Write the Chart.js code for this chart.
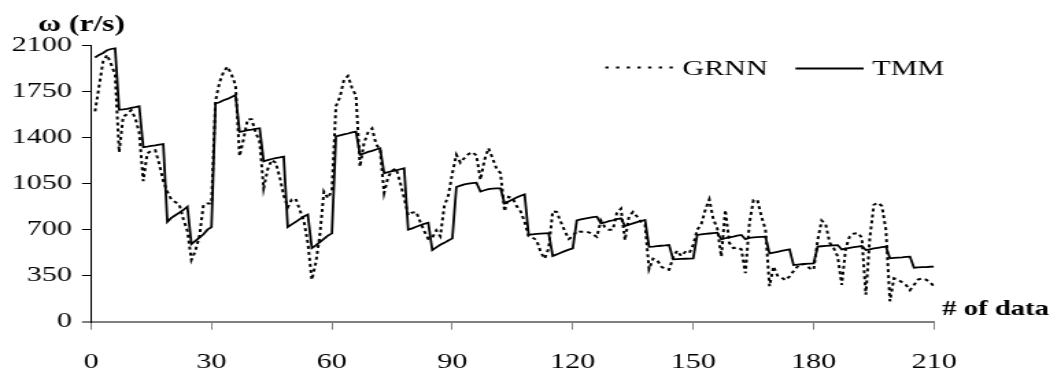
<!DOCTYPE html>
<html><head><meta charset="utf-8">
<script src="https://cdn.jsdelivr.net/npm/chart.js@4/dist/chart.umd.min.js"></script>
<style>
html,body{margin:0;padding:0;background:#fff;overflow:hidden;}
#wrap{width:766px;height:375px;transform:scaleX(1.3708);transform-origin:0 0;}
canvas{display:block;}
</style></head><body>
<div id="wrap"><canvas id="c" width="766" height="375" style="width:766px;height:375px"></canvas></div>
<script>
// ---- data (index 1..210) ----
const grnn = [
1600,1790,1980,2030,1960,1880,1290,1560,1580,1610,
1550,1440,1070,1280,1300,1305,1200,1070,990,930,
910,890,780,690,470,540,650,890,900,900,
1680,1820,1900,1940,1880,1800,1260,1390,1540,1540,
1440,1370,1015,1160,1230,1210,1100,960,870,930,
935,850,770,600,320,450,660,990,940,1000,
1640,1710,1840,1870,1780,1720,1180,1360,1440,1470,
1350,1310,980,1100,1150,1165,1060,940,810,830,
835,760,690,630,640,695,650,880,960,1130,
1270,1210,1245,1275,1290,1265,1080,1230,1320,1245,
1165,1130,840,950,940,880,840,760,650,640,
620,530,480,560,840,835,760,690,630,650,
690,685,685,680,665,645,770,720,700,700,
830,860,620,800,835,800,760,740,400,480,
470,420,400,395,490,540,500,530,520,585,
700,740,850,930,780,710,495,850,600,560,
565,550,370,750,926,925,800,700,270,420,
350,335,315,345,385,420,435,440,406,395,
620,770,740,600,560,495,280,560,650,670,
675,640,205,640,890,905,880,700,155,330,
320,300,280,240,280,320,330,320,300,270
];
const tmm = [
2010,2030,2045,2065,2075,2080,
1612,1615,1620,1627,1633,1640,
1328,1332,1338,1342,1348,1352,
760,790,810,830,850,875,
590,615,640,665,700,720,
1660,1670,1685,1695,1710,1725,
1445,1450,1458,1462,1468,1472,
1220,1230,1238,1245,1250,1256,
720,740,760,780,800,815,
560,580,605,630,655,672,
1410,1418,1425,1432,1440,1446,
1270,1280,1292,1300,1310,1320,
1130,1138,1145,1152,1160,1167,
700,710,722,734,745,753,
545,565,585,600,618,634,
1025,1035,1045,1050,1055,1058,
990,1000,1008,1012,1015,1015,
900,915,930,945,958,969,
662,665,668,670,672,674,
500,512,525,537,548,558,
770,778,785,790,795,799,
748,755,765,772,780,786,
728,738,748,758,766,774,
570,572,575,578,580,583,
474,476,478,479,480,482,
660,664,668,671,674,677,
627,635,642,648,655,660,
628,637,641,644,646,647,
520,526,532,538,544,550,
431,434,437,440,442,444,
571,574,577,579,581,583,
550,556,562,567,572,576,
545,551,557,562,567,571,
482,485,488,490,493,495,
411,413,415,416,418,419
];
const xTicks = [0,30,60,90,120,150,180,210];
const yTicks = [0,350,700,1050,1400,1750,2100];
const seriesNames = ['GRNN','TMM'];
const yTitle = 'ω (r/s)';
const xTitle = '# of data';

const FONT = '"Liberation Serif","Times New Roman","DejaVu Serif",serif';
const toPts = arr => arr.map((v,i)=>({x:i+1,y:v}));

const overlay = {
  id:'overlay',
  afterDraw(chart){
    const ctx = chart.ctx;
    ctx.save();
    ctx.fillStyle = '#000';
    ctx.textAlign = 'left';
    ctx.textBaseline = 'alphabetic';
    ctx.font = 'bold 23px ' + FONT;
    ctx.fillText(yTitle, 27.7, 31);
    ctx.font = 'bold 21px ' + FONT;
    ctx.fillText(xTitle, 687.2, 315);
    const leg = [
      {x0:441.6, x1:492.7, y:67.5, tx:497.8, dash:[2.4,5.4]},
      {x0:580.3, x1:630.0, y:68.5, tx:636.3, dash:[]}
    ];
    chart.data.datasets.forEach((ds,i)=>{
      const L = leg[i];
      ctx.beginPath();
      ctx.setLineDash(L.dash);
      ctx.lineWidth = 2;
      ctx.strokeStyle = '#000';
      ctx.moveTo(L.x0, L.y); ctx.lineTo(L.x1, L.y);
      ctx.stroke();
      ctx.setLineDash([]);
      ctx.font = '22px ' + FONT;
      ctx.fillText(ds.label, L.tx, 74.5);
    });
    ctx.restore();
  }
};

new Chart(document.getElementById('c'), {
  type:'line',
  data:{datasets:[
    {label:seriesNames[0], data:toPts(grnn), borderColor:'#000', borderWidth:2, borderDash:[3,3], pointRadius:0, tension:0, fill:false},
    {label:seriesNames[1], data:toPts(tmm), borderColor:'#000', borderWidth:1.8, pointRadius:0, tension:0, fill:false}
  ]},
  options:{
    responsive:false, animation:false,
    layout:{padding:{top:45.7, right:84.6, bottom:0, left:0}},
    plugins:{legend:{display:false}, tooltip:{enabled:false}, title:{display:false}},
    scales:{
      x:{type:'linear', min:0, max:210,
        afterBuildTicks:s=>{s.ticks = xTicks.map(v=>({value:v}));},
        afterFit:s=>{s.height = 53.3;},
        ticks:{font:{family:FONT,size:22}, color:'#000', padding:19, maxRotation:0, autoSkip:false,
          callback:v=>String(v)},
        grid:{drawOnChartArea:false, drawTicks:true, tickLength:8, color:'#808080', lineWidth:1},
        border:{display:true, color:'#808080', width:2}
      },
      y:{type:'linear', min:0, max:2100,
        afterBuildTicks:s=>{s.ticks = yTicks.map(v=>({value:v}));},
        afterFit:s=>{s.width = 66.4;},
        ticks:{font:{family:FONT,size:22}, color:'#000', padding:7.2, autoSkip:false,
          callback:v=>String(v)},
        grid:{drawOnChartArea:false, drawTicks:true, tickLength:6.6,
          color:c=> (c.tick && c.tick.value===0) ? '#808080' : '#000',
          lineWidth:c=> (c.tick && c.tick.value===0) ? 2 : 1},
        border:{display:true, color:'#000', width:1}
      }
    }
  },
  plugins:[overlay]
});
</script>
</body></html>
